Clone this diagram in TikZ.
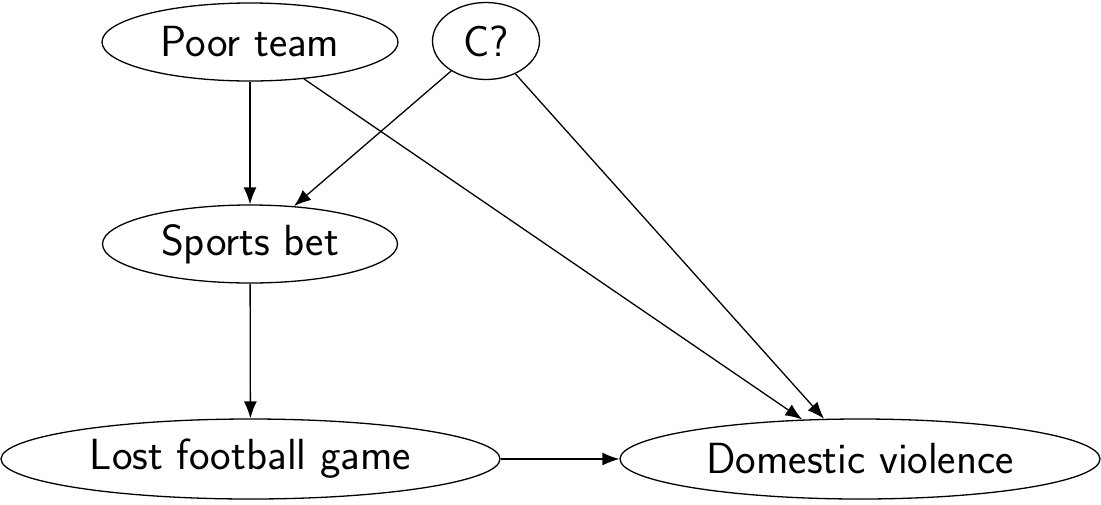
\documentclass[tikz,border=0pt]{standalone}
\usetikzlibrary{shapes.geometric}
\usetikzlibrary{arrows.meta}
\pgfdeclarelayer{edgelayer}
\pgfdeclarelayer{nodelayer}
\pgfsetlayers{edgelayer,nodelayer,main}
\tikzstyle{none}=[inner sep=0pt]
\tikzstyle{factor}=[ellipse,fill=white,draw=black,line width=0.65pt,inner sep=0pt,font=\fontsize{21.8}{26}\selectfont\sffamily]
\tikzstyle{cause}=[-{Latex[length=8.5pt,width=6.5pt]},draw=black,line width=0.65pt]

\begin{document}
\begin{tikzpicture}[x=0.5pt,y=-0.5pt]
	\useasboundingbox (0,0) rectangle (1101,504);
	\begin{pgfonlayer}{nodelayer}
		\node [style=factor, minimum width=148pt, minimum height=39pt] (0) at (250, 42) {Poor team};
		\node [style=factor, minimum width=53.5pt, minimum height=38.5pt] (1) at (486, 41) {C?};
		\node [style=factor, minimum width=147.5pt, minimum height=39pt] (2) at (250, 244) {Sports bet};
		\node [style=factor, minimum width=249.5pt, minimum height=40pt] (3) at (250.5, 459) {Lost football game};
		\node [style=factor, minimum width=240pt, minimum height=40pt] (4) at (860, 459) {Domestic violence};
	\end{pgfonlayer}
	\begin{pgfonlayer}{edgelayer}
		\draw [style=cause] (0) to (2);
		\draw [style=cause] (0) to (4);
		\draw [style=cause] (1) to (2);
		\draw [style=cause] (1) to (4);
		\draw [style=cause] (2) to (3);
		\draw [style=cause] (3) to (4);
	\end{pgfonlayer}
\end{tikzpicture}
\end{document}
